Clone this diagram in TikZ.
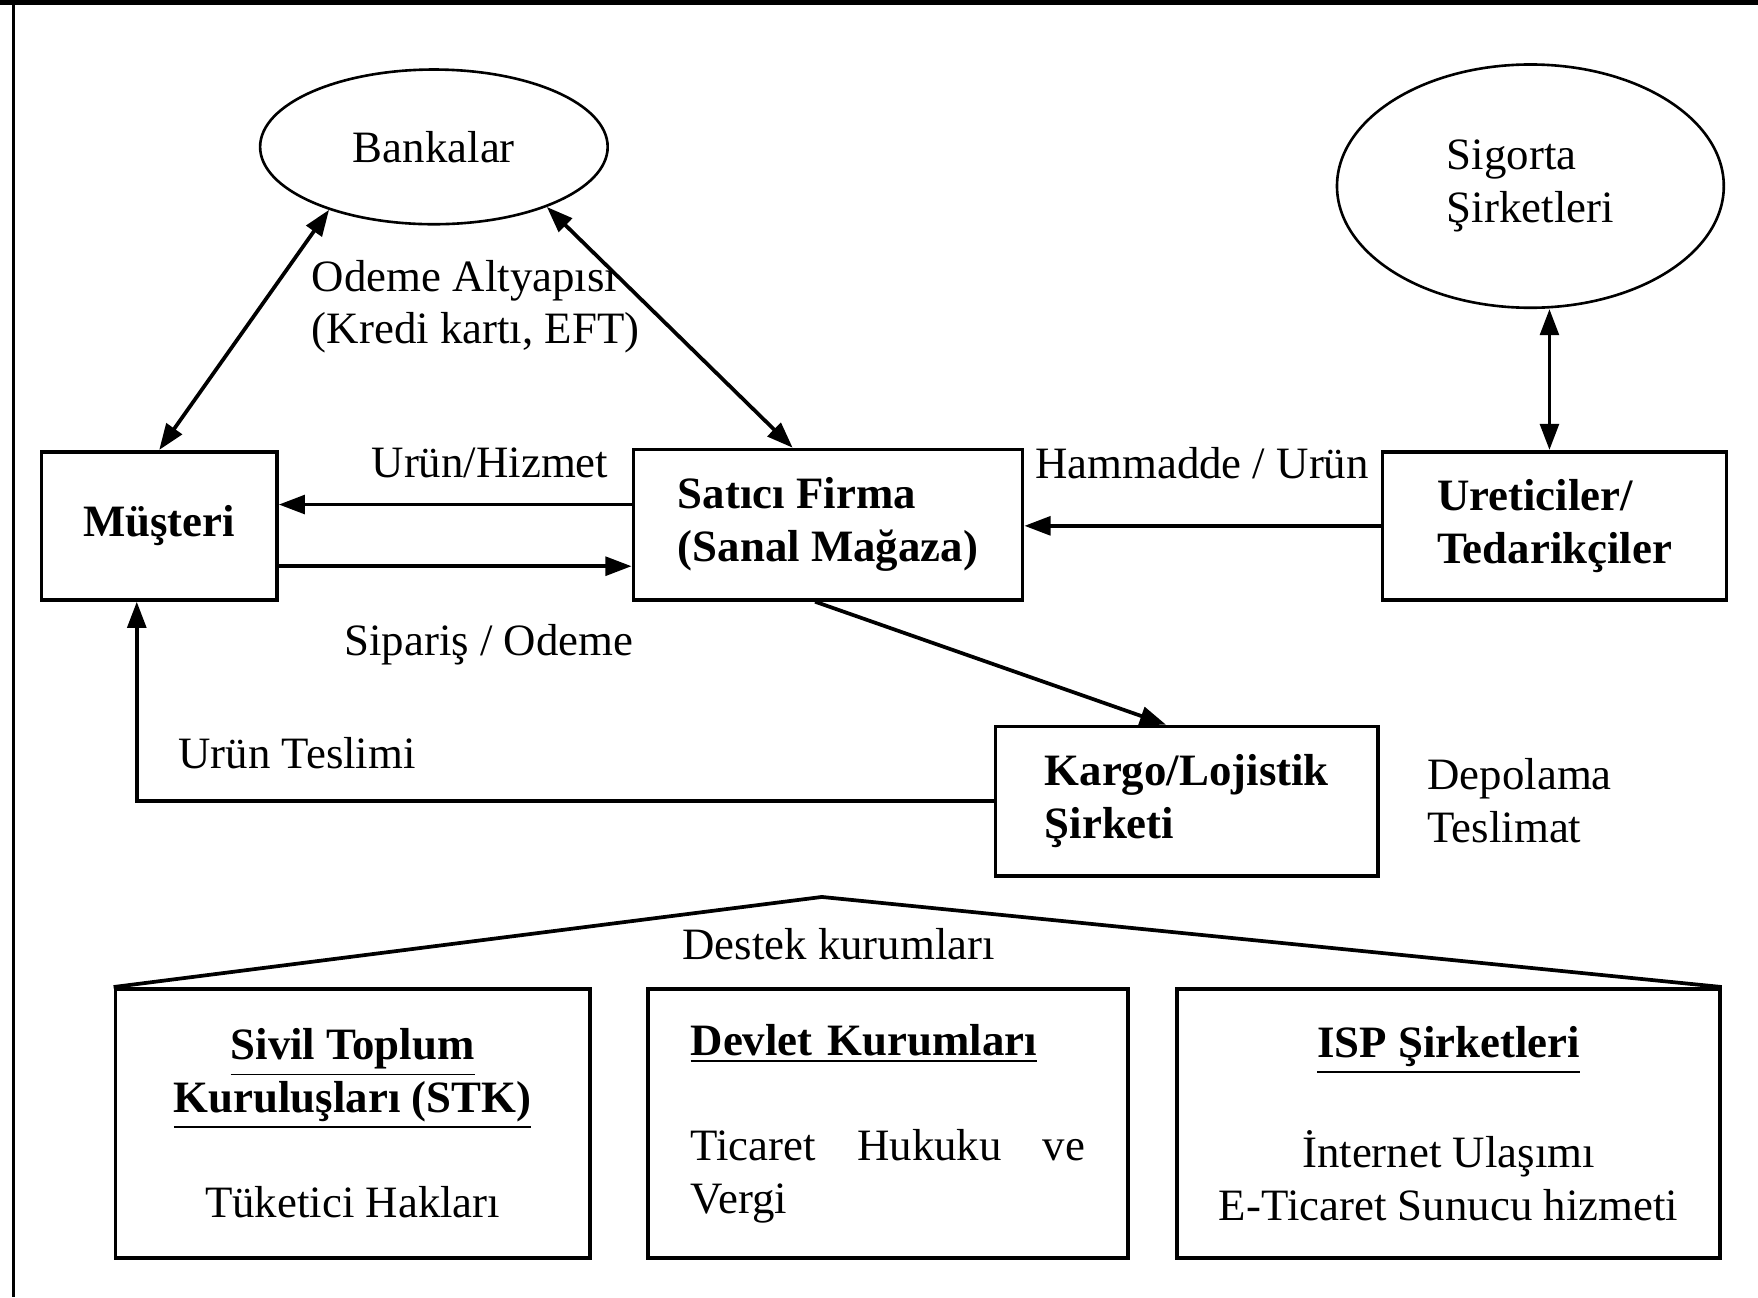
\documentclass[tikz,border=0pt]{standalone}
\usepackage{fontspec}
\setmainfont{Liberation Serif}
\usetikzlibrary{arrows.meta,shapes.geometric,calc}
\newcommand{\yazitipi}{\fontsize{12}{14.1}\selectfont}
\tikzset{every picture/.style={line width=0.75pt}}
\tikzset{
	kutu/.style={draw, line width=1pt, inner sep=2pt, align=left, font=\yazitipi\bfseries},
	kurum/.style={draw, line width=1pt, inner sep=2pt, minimum height=72pt, font=\yazitipi},
	bulut/.style={draw, ellipse, line width=0.7pt, inner sep=0pt, align=left, font=\yazitipi},
	yazi/.style={inner sep=0pt, align=left, font=\yazitipi},
	ok/.style={line width=1pt, -{Triangle[length=7pt,width=5pt]}},
	ciftok/.style={line width=1pt, {Triangle[length=7pt,width=5pt]}-{Triangle[length=7pt,width=5pt]}}
}

\begin{document}
\begin{tikzpicture}[x=0.3pt,y=0.3pt,yscale=-1,xscale=1]
	\useasboundingbox (0,0) rectangle (1568,1157);

	%Frame
	\draw[line width=1.5pt] (0,2) -- (1568,2);
	\draw[line width=0.6pt] (12,0) -- (12,1157);

	%Shape: Ellipse
	\node[bulut, minimum width=93pt, minimum height=41.4pt] (bank) at (387,131) {Bankalar};
	%Shape: Ellipse
	\node[bulut, minimum width=103.5pt, minimum height=65.1pt] (sig) at (1365,166) {Sigorta\\Şirketleri};

	%Shape: Rectangle
	\node[kutu, minimum width=63pt, minimum height=39.6pt, align=center] (mus) at (142,469) {Müşteri};
	\node[kutu, minimum width=104.1pt, minimum height=40.2pt] (sat) at (738.5,468) {Satıcı Firma\\(Sanal Mağaza)};
	\node[kutu, minimum width=92.1pt, minimum height=39.6pt] (ure) at (1386.5,469) {Ureticiler/\\Tedarikçiler};
	\node[kutu, minimum width=102.3pt, minimum height=39.9pt] (kar) at (1058.5,714.5) {Kargo/Lojistik\\Şirketi};

	%Shape: Rectangle
	\node[kurum, minimum width=126.9pt, align=center] (stk) at (314.5,1002) {\underline{\textbf{Sivil Toplum}}\\\underline{\textbf{Kuruluşları (STK)}}\\[14.1pt]Tüketici Hakları};
	\node[kurum, minimum width=128.4pt, text width=105.6pt, align=left] (dev) at (792,1002) {\underline{\textbf{Devlet Kurumları}}\\[14.1pt]Ticaret\hfill Hukuku\hfill ve\\Vergi};
	\node[kurum, minimum width=145.2pt, align=center] (isp) at (1292,1002) {\underline{\textbf{ISP Şirketleri}}\\[14.1pt]İnternet Ulaşımı\\E-Ticaret Sunucu hizmeti};

	%Straight Lines
	\draw[ciftok] (mus.north) -- (bank.211);
	\draw[ciftok] (bank.332) -- ($(sat.north)+(-31.5,0)$);
	\draw[ok] ($(sat.west)+(0,-18)$) coordinate (p1) -- (p1 -| mus.east);
	\draw[ok] ($(mus.east)+(0,36)$) coordinate (p2) -- (p2 -| sat.west);
	\draw[ok] (ure.west) -- (ure.west -| sat.east);
	\draw[ciftok] ($(ure.north)+(-4.5,0)$) coordinate (p3) -- (p3 |- sig.south);
	\draw[ok] ($(sat.south)+(-11.5,0)$) -- ($(kar.north)+(-18.5,0)$);
	\draw[ok] (kar.west) -| ($(mus.south)+(-20,0)$);

	%Roof
	\coordinate (roof) at (733,800);
	\draw[line width=1pt] (stk.north west) -- (roof) -- (isp.north east);

	% Text Node
	\node[yazi, anchor=west] (odeme) at (277,273.5) {Odeme Altyapısı\\(Kredi kartı, EFT)};
	\node[yazi] (urun) at (437,413) {Urün/Hizmet};
	\node[yazi] (siparis) at (436,575) {Sipariş / Odeme};
	\node[yazi] (ham) at (1072,413) {Hammadde / Urün};
	\node[yazi] (teslim) at (265,672) {Urün Teslimi};
	\node[yazi, anchor=west] (depo) at (1272,714) {Depolama\\Teslimat};
	\node[yazi] (destek) at (748,842) {Destek kurumları};

\end{tikzpicture}
\end{document}
